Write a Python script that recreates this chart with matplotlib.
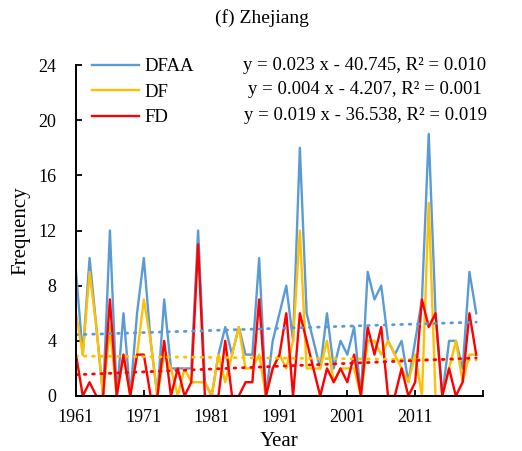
import numpy as np
import matplotlib
matplotlib.use('Agg')
import matplotlib.pyplot as plt

plt.rcParams['font.family'] = 'Liberation Serif'

years = np.arange(1961, 2021)
# yearly counts for Zhejiang
dfaa = [9, 3, 10, 5, 0, 12, 0, 6, 0, 6,
        10, 4, 0, 7, 2, 2, 2, 2, 12, 1,
        0, 3, 5, 3, 5, 3, 3, 10, 0, 4,
        6, 8, 4, 18, 6, 4, 2, 6, 2, 4,
        3, 5, 0, 9, 7, 8, 4, 3, 4, 1,
        4, 7, 19, 6, 0, 4, 4, 2, 9, 6]
df = [6, 3, 9, 5, 0, 5, 0, 3, 0, 3,
      7, 4, 0, 3, 2, 0, 2, 1, 1, 1,
      0, 3, 1, 3, 5, 2, 2, 3, 0, 2,
      3, 2, 4, 12, 2, 2, 2, 4, 1, 2,
      2, 2, 0, 4, 4, 3, 4, 3, 2, 1,
      3, 0, 14, 0, 0, 2, 4, 1, 3, 3]
fd = [3, 0, 1, 0, 0, 7, 0, 3, 0, 3,
      3, 0, 0, 4, 0, 2, 0, 1, 11, 0,
      0, 0, 4, 0, 0, 1, 1, 7, 0, 2,
      3, 6, 0, 6, 4, 2, 0, 2, 1, 2,
      1, 3, 0, 5, 3, 5, 0, 0, 2, 0,
      1, 7, 5, 6, 0, 2, 0, 1, 6, 3]

names = ['DFAA', 'DF', 'FD']
colors = ['#5B9BD5', '#FFC000', '#FF0000']
equations = ['y = 0.023 x - 40.745, R² = 0.010',
             'y = 0.004 x - 4.207, R² = 0.001',
             'y = 0.019 x - 36.538, R² = 0.019']

fig = plt.figure(figsize=(5.22, 4.51), dpi=100)
ax = fig.add_axes([76 / 522, 55 / 451, 407 / 522, 331 / 451])

handles = []
for vals, c, name in zip([dfaa, df, fd], colors, names):
    h, = ax.plot(years, vals, color=c, lw=1.7, label=name)
    handles.append(h)

# linear trends
for vals, c in zip([dfaa, df, fd], colors):
    k, b = np.polyfit(years, vals, 1)
    ax.plot(years, k * years + b, color=c, lw=2,
            linestyle=(0, (0.6, 2.4)), dash_capstyle='round')

ax.set_xlim(1961, 2021)
ax.set_ylim(0, 24)
ax.set_xticks(np.arange(1961, 2022, 10))
ax.set_xticklabels([str(y) for y in range(1961, 2012, 10)] + [''])
ax.set_yticks(np.arange(0, 25, 4))
ax.tick_params(direction='in', length=4, width=1.3, labelsize=13)
ax.tick_params(axis='x', pad=9)
ax.tick_params(axis='y', pad=14)
for s in ['top', 'right']:
    ax.spines[s].set_visible(False)
for s in ['left', 'bottom']:
    ax.spines[s].set_linewidth(1.4)

ax.set_xlabel('Year', fontsize=15, labelpad=5)
ax.set_ylabel('Frequency', fontsize=15, labelpad=6)

ax.legend(handles=handles, loc='upper left', frameon=False, fontsize=13.5,
          bbox_to_anchor=(92 / 522, 1 - 58 / 451), bbox_transform=fig.transFigure,
          borderpad=0, borderaxespad=0, handlelength=2.5, handletextpad=0.3,
          labelspacing=0.45)

for i, eq in enumerate(equations):
    fig.text(365 / 522, 1 - (65 + 25 * i) / 451, eq, ha='center', va='center',
             fontsize=13.5)

fig.text(262 / 522, 1 - 18 / 451, '(f) Zhejiang', ha='center', va='center',
         fontsize=14)

fig.savefig('out.png', dpi=100)
